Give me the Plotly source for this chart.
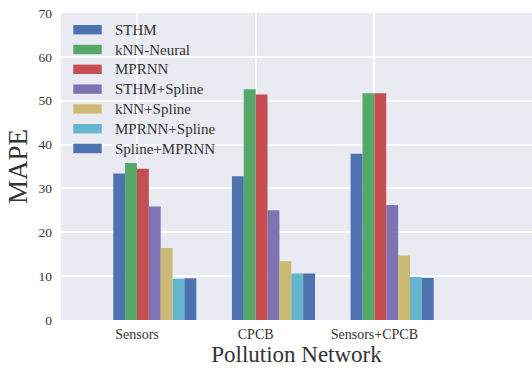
import plotly.graph_objects as go

# ---- data ----
networks = ["Sensors", "CPCB", "Sensors+CPCB"]
methods = ["STHM", "kNN-Neural", "MPRNN", "STHM+Spline", "kNN+Spline", "MPRNN+Spline", "Spline+MPRNN"]
sthm = [33.4, 32.8, 37.9]
knn_neural = [35.8, 52.6, 51.7]
mprnn = [34.5, 51.4, 51.7]
sthm_spline = [25.9, 25.0, 26.2]
knn_spline = [16.4, 13.4, 14.7]
mprnn_spline = [9.4, 10.6, 9.8]
spline_mprnn = [9.5, 10.6, 9.6]
series = [sthm, knn_neural, mprnn, sthm_spline, knn_spline, mprnn_spline, spline_mprnn]
yticks = [0, 10, 20, 30, 40, 50, 60, 70]

colors = ["#4C72B0", "#55A868", "#C44E52", "#8172B2", "#CCB974", "#64B5CD", "#4C72B0"]
FONT = "Liberation Serif"
TXT = "#333333"
bar_w = 0.1
xpos = list(range(len(networks)))

fig = go.Figure()
for i, (name, vals) in enumerate(zip(methods, series)):
    fig.add_trace(go.Bar(
        x=xpos, y=vals, name=name, width=bar_w, offset=-0.2 + bar_w * i,
        marker=dict(color=colors[i], line=dict(width=0)), showlegend=False,
    ))

# manual legend (wide swatches like the reference)
L, R, T, B = 61, 532, 13, 320
pw, ph = R - L, B - T
row0 = 29.7
step = 19.8
for i, name in enumerate(methods):
    yc = row0 + step * i
    fig.add_shape(type="rect", xref="paper", yref="paper",
                  x0=(73.3 - L) / pw, x1=(101.7 - L) / pw,
                  y0=(B - (yc - 4.7)) / ph, y1=(B - (yc + 4.7)) / ph,
                  fillcolor=colors[i], line=dict(width=0), layer="above")
    fig.add_annotation(xref="paper", yref="paper", x=(112.5 - L) / pw, y=(B - yc) / ph,
                       text=name, showarrow=False, xanchor="left", yanchor="middle",
                       font=dict(family=FONT, size=15, color=TXT))

fig.update_layout(
    width=532, height=370,
    margin=dict(l=L, r=0, t=T, b=370 - B),
    paper_bgcolor="white", plot_bgcolor="#EAEAF2",
    barmode="overlay", showlegend=False,
    font=dict(family=FONT, color=TXT),
)
fig.update_xaxes(
    range=[-0.640, 3.328], tickvals=xpos, ticktext=networks,
    showgrid=True, gridcolor="white", gridwidth=1.5, zeroline=False,
    showline=False, ticks="", ticklabelstandoff=4,
    tickfont=dict(family=FONT, size=14, color=TXT),
    title=dict(text="Pollution Network", font=dict(family=FONT, size=23, color=TXT), standoff=4),
    automargin=False,
)
fig.update_yaxes(
    range=[0, 70], tickvals=yticks,
    showgrid=True, gridcolor="white", gridwidth=1.5, zeroline=False,
    showline=False, ticks="", ticklabelstandoff=8,
    tickfont=dict(family=FONT, size=13.5, color=TXT),
    title=dict(text="MAPE", font=dict(family=FONT, size=27, color=TXT), standoff=3),
    automargin=False,
)

fig.write_html("out.html")
